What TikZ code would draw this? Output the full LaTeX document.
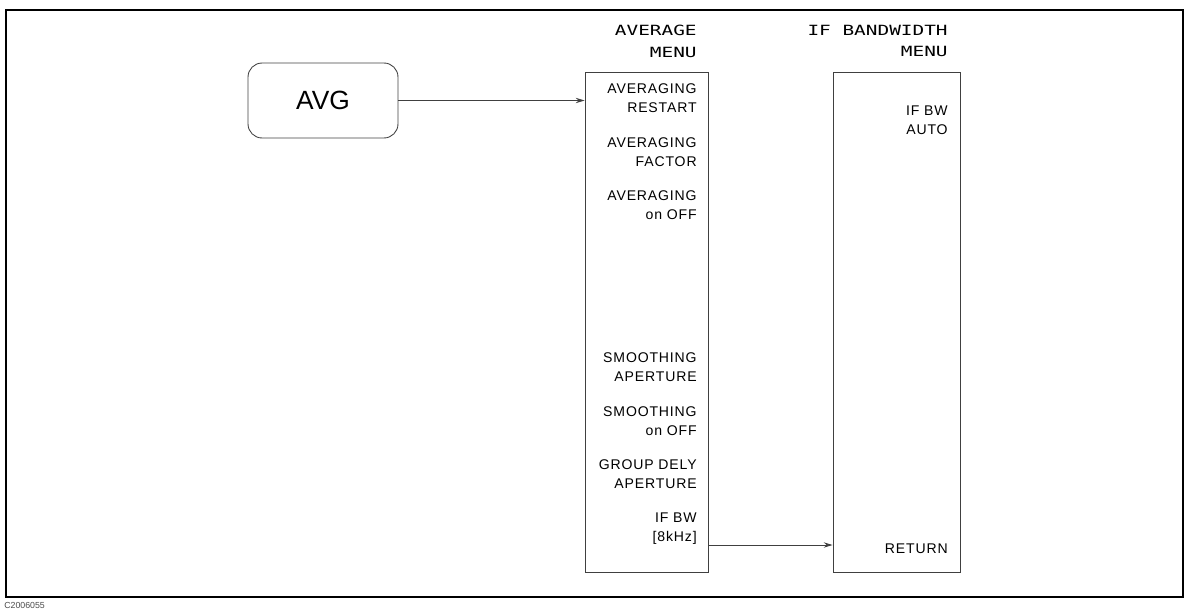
\documentclass[tikz,border=0pt]{standalone}
\usepackage{fontspec}
\setmainfont{Liberation Sans}
\newfontfamily\titlefont[FakeStretch=1.38]{DejaVu Sans Mono}
\usetikzlibrary{arrows.meta, positioning}

\begin{document}
\begin{tikzpicture}[
    x=0.02cm, y=-0.02cm,
    line/.style={black!75, line width=0.5pt},
    keybox/.style={
        draw=black!75,
        line width=0.5pt,
        rounded corners=8pt,
        minimum width=3cm,
        minimum height=1.5cm,
        font=\fontsize{15}{18}\selectfont
    },
    menubox/.style={
        draw=black!75,
        line width=0.5pt,
        minimum height=10cm,
        inner sep=0pt
    },
    softkey/.style={
        anchor=east,
        align=right,
        inner sep=0pt,
        font=\addfontfeature{LetterSpace=6}\fontsize{8}{10.8}\selectfont
    },
    menutitle/.style={
        anchor=east,
        align=right,
        inner sep=0pt,
        font=\titlefont\fontsize{8}{12.4}\selectfont
    },
    link/.style={line, -{Stealth[length=5pt, width=3pt]}}
]
    % frame and bounding box
    \useasboundingbox (0,0) rectangle (1185,612);
    \draw[black, line width=1.1pt] (6,10) rectangle (1183,597);
    \node[anchor=west, inner sep=0pt, font=\fontsize{5}{6}\selectfont, black!70] (figno) at (4,605) {C2006055};

    % hard key
    \node[keybox] (avg) at (323,100.5) {AVG};

    % menu boxes
    \node[menubox, minimum width=2.46cm] (avgmenu) at (646.5,322) {};
    \node[menubox, minimum width=2.54cm] (ifmenu) at (896.5,322) {};

    % menu titles
    \node[menutitle] (avgtitle) at (697,41) {AVERAGE\\MENU};
    \node[menutitle] (iftitle) at (948,41) {IF BANDWIDTH\\MENU};

    % softkeys of the average menu
    \node[softkey] (restart) at (697,98.5) {AVERAGING\\RESTART};
    \node[softkey] (factor) at (697,152.5) {AVERAGING\\FACTOR};
    \node[softkey] (avgonoff) at (697,205.5) {AVERAGING\\on OFF};
    \node[softkey] (smoaper) at (697,367.5) {SMOOTHING\\APERTURE};
    \node[softkey] (smoonoff) at (697,421.5) {SMOOTHING\\on OFF};
    \node[softkey] (gdaper) at (697,474.5) {GROUP DELY\\APERTURE};
    \node[softkey] (ifbw) at (697,528.5) {IF BW\\{[8kHz]}};

    % softkeys of the IF bandwidth menu
    \node[softkey] (ifauto) at (948,120) {IF BW\\AUTO};
    \node[softkey] (return) at (948,549) {RETURN};

    % connectors
    \coordinate (avgin) at (avgmenu.west |- avg.east);
    \draw[link] (avg.east) -- (avgin);
    \coordinate (ifout) at (avgmenu.east |- 0,545);
    \coordinate (ifin) at (ifmenu.west |- ifout);
    \draw[link] (ifout) -- (ifin);
\end{tikzpicture}
\end{document}
